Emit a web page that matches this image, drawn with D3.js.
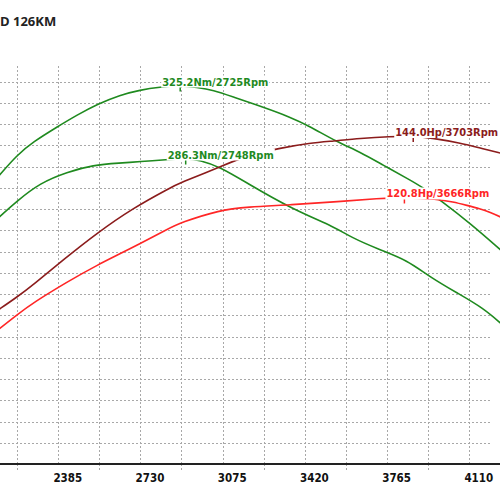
<!DOCTYPE html>
<html>
<head>
<meta charset="utf-8">
<script src="https://cdn.jsdelivr.net/npm/d3@7.9.0/dist/d3.min.js"></script>
<style>
  html, body { margin: 0; padding: 0; background: #fff; }
  svg { display: block; }
  .lbl { font-family: "DejaVu Sans Condensed", "DejaVu Sans", sans-serif; font-weight: bold; font-stretch: condensed; }
</style>
</head>
<body>
<svg id="chart" width="500" height="500"></svg>
<script>
// rpm ticks on the x axis
const tickRpm = [2385, 2730, 3075, 3420, 3765, 4110];

// torque curves (Nm)
const torqueA_rpm = [1960, 2040, 2107, 2208, 2292, 2380, 2472, 2556, 2640, 2725, 2795, 2863, 2947, 3072, 3186, 3270, 3383, 3480, 3576, 3689, 3740, 3815, 3941, 4075];
const torqueA_val = [276.5, 288.2, 295.1, 303.1, 309.5, 315.4, 320.1, 322.8, 324.4, 325.2, 324.2, 322.8, 319.1, 313.7, 308.4, 303.4, 295.1, 289.8, 282.8, 274.9, 271.1, 264.2, 251.9, 237.0];
const torqueB_rpm = [1960, 2040, 2137, 2250, 2359, 2472, 2556, 2670, 2748, 2808, 2892, 3005, 3186, 3383, 3438, 3564, 3677, 3773, 3887, 3996, 4075];
const torqueB_val = [254.5, 263.7, 273.3, 279.1, 282.8, 283.9, 284.6, 285.8, 286.3, 285.5, 281.8, 273.3, 259.9, 249.3, 244.5, 237.6, 232.2, 223.2, 214.7, 206.7, 198.0];

// power curves (Hp)
const powerA_rpm = [1960, 2040, 2107, 2233, 2376, 2527, 2682, 2724, 2892, 2988, 3144, 3270, 3366, 3480, 3606, 3703, 3786, 3899, 3983, 4075];
const powerA_val = [78.3, 83.2, 87.8, 97.2, 107.4, 116.8, 124.4, 126.3, 132.3, 136.1, 139.5, 141.4, 142.1, 143.1, 143.8, 144.0, 143.2, 141.4, 139.5, 137.4];
const powerB_rpm = [1960, 2040, 2107, 2250, 2376, 2506, 2682, 2724, 2892, 3005, 3186, 3366, 3564, 3666, 3803, 3870, 3929, 3983, 4025, 4075];
const powerB_val = [70.8, 76.5, 81.0, 88.9, 95.3, 101.0, 109.3, 111.2, 116.1, 117.2, 118.0, 119.1, 120.5, 120.8, 120.2, 119.1, 117.8, 116.6, 115.3, 113.2];

// peak labels
const peaks = [
  { text: "325.2Nm/2725Rpm", rpm: 2725, val: 325.2, unit: "Nm", color: "#1f8a1f" },
  { text: "286.3Nm/2748Rpm", rpm: 2748, val: 286.3, unit: "Nm", color: "#1f8a1f" },
  { text: "144.0Hp/3703Rpm", rpm: 3703, val: 144.0, unit: "Hp", color: "#8b1c1c" },
  { text: "120.8Hp/3666Rpm", rpm: 3666, val: 120.8, unit: "Hp", color: "#ff2626" }
];

const title = "D 126KM";

const svg = d3.select("#chart");
const axisY = 464, plotTop = 66, plotRight = 492;

const x = d3.scaleLinear().domain([2040, 3765]).range([17, 428]);
const yNm = d3.scaleLinear().domain([123.55, 338.79]).range([axisY, 60]);
const yHp = d3.scaleLinear().domain([20.2, 172.7]).range([axisY, 60]);
const yGrid = d3.scaleLinear().domain([0, 19]).range([axisY, axisY - 19 * 21.24]);

// grid
const grid = svg.append("g").attr("stroke", "#a8a8a8").attr("stroke-width", 1).attr("stroke-dasharray", "2,2");
grid.selectAll("line.v").data(d3.range(1867.5, 4100, 172.5)).join("line")
  .attr("x1", d => Math.round(x(d)) + 0.5).attr("x2", d => Math.round(x(d)) + 0.5)
  .attr("y1", plotTop).attr("y2", axisY);
grid.selectAll("line.h").data(d3.range(1, 19)).join("line")
  .attr("x1", 0).attr("x2", plotRight)
  .attr("y1", d => Math.round(yGrid(d)) + 0.5).attr("y2", d => Math.round(yGrid(d)) + 0.5);
// major tick marks below the axis
grid.selectAll("line.t").data(d3.range(2040, 4200, 345)).join("line")
  .attr("x1", d => Math.round(x(d)) + 0.5).attr("x2", d => Math.round(x(d)) + 0.5)
  .attr("y1", axisY).attr("y2", axisY + 8);

// axis line
svg.append("line").attr("x1", 0).attr("x2", 500).attr("y1", axisY).attr("y2", axisY)
  .attr("stroke", "#222").attr("stroke-width", 2);

svg.append("g").selectAll("text").data(tickRpm).join("text")
  .attr("class", "lbl")
  .attr("x", d => x(d) - 17).attr("y", 482)
  .attr("text-anchor", "end").attr("font-size", 11.5).attr("fill", "#111")
  .text(d => d);

// curves
const series = [
  { rpm: torqueA_rpm, val: torqueA_val, y: yNm, color: "#1f8a1f" },
  { rpm: torqueB_rpm, val: torqueB_val, y: yNm, color: "#1f8a1f" },
  { rpm: powerA_rpm, val: powerA_val, y: yHp, color: "#8b1c1c" },
  { rpm: powerB_rpm, val: powerB_val, y: yHp, color: "#ff2626" }
];
series.forEach(s => {
  const pts = s.rpm.map((r, i) => [r, s.val[i]]);
  const line = d3.line().x(d => x(d[0])).y(d => s.y(d[1])).curve(d3.curveBasis);
  svg.append("path").datum(pts).attr("d", line)
    .attr("fill", "none").attr("stroke", s.color).attr("stroke-width", 1.6);
});

// peak labels with white box and a small marker
peaks.forEach(p => {
  const ys = p.unit === "Nm" ? yNm : yHp;
  const px = x(p.rpm), py = ys(p.val);
  const g = svg.append("g");
  const t = g.append("text").attr("class", "lbl")
    .attr("x", px - 18).attr("y", py)
    .attr("font-size", 11).attr("fill", p.color).text(p.text);
  const b = t.node().getBBox();
  g.insert("rect", "text").attr("x", b.x - 1).attr("y", py - 10)
    .attr("width", b.width + 2).attr("height", 12).attr("fill", "#fff");
  g.append("line").attr("x1", px).attr("x2", px).attr("y1", py + 2).attr("y2", py + 6)
    .attr("stroke", p.color).attr("stroke-width", 1.5);
});

// title
svg.append("text").attr("x", 0).attr("y", 26)
  .attr("font-family", "'Open Sans', sans-serif").attr("font-weight", "bold")
  .attr("font-size", 13).attr("fill", "#222").text(title);
</script>
</body>
</html>
